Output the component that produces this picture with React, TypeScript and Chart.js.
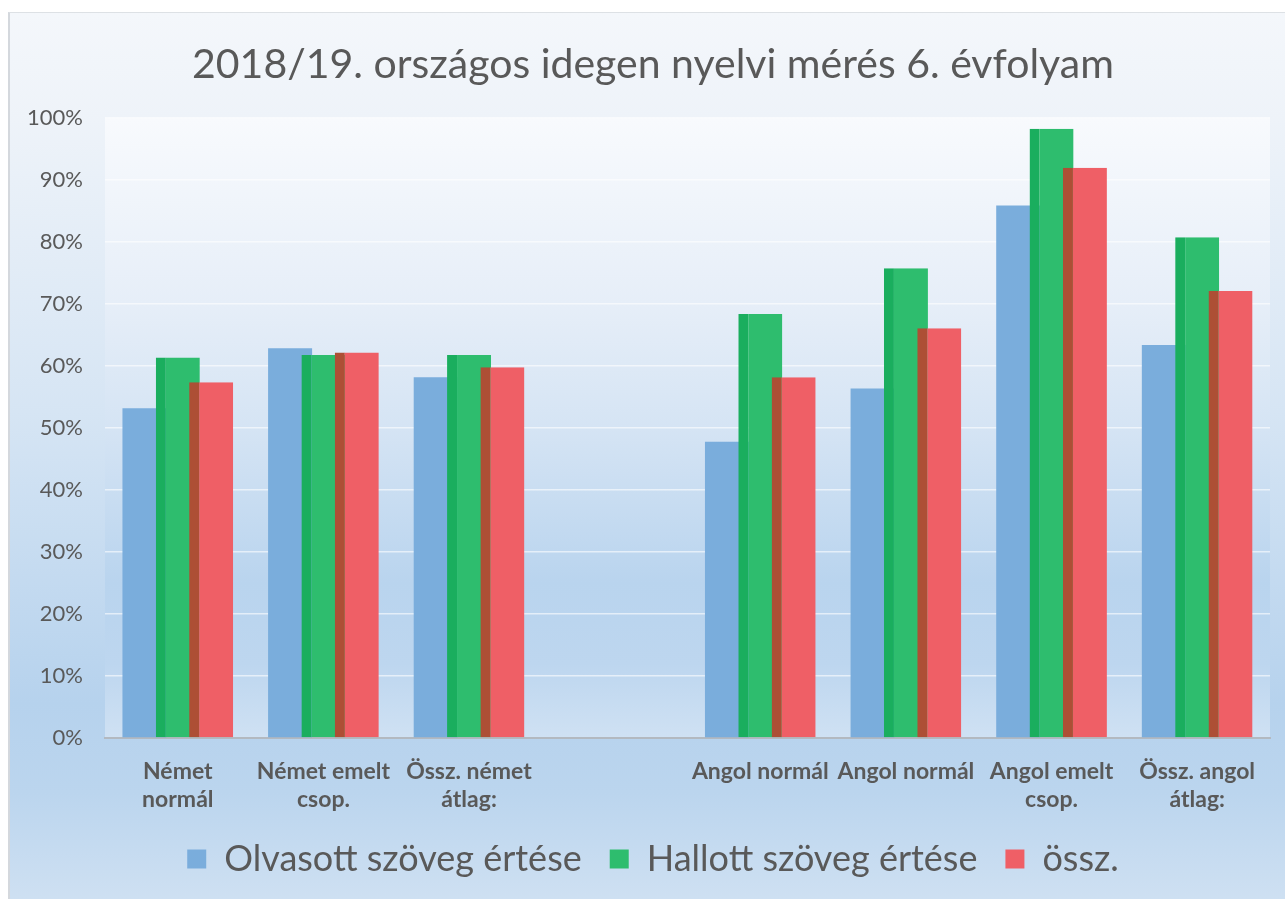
import React, { useEffect, useRef } from "react";
import { Chart, registerables } from "chart.js";

Chart.register(...registerables);

const TITLE = "2018/19. országos idegen nyelvi mérés 6. évfolyam";
const categories: (string | string[])[] = [
  ["Német", "normál"],
  ["Német emelt", "csop."],
  ["Össz. német", "átlag:"],
  "",
  "Angol normál",
  "Angol normál",
  ["Angol emelt", "csop."],
  ["Össz. angol", "átlag:"],
];
const seriesNames = ["Olvasott szöveg értése", "Hallott szöveg értése", "össz."];
const olvasott = [53.2, 62.9, 58.2, null, 47.8, 56.4, 85.9, 63.4];
const hallott = [61.4, 61.8, 61.8, null, 68.4, 75.8, 98.3, 80.8];
const ossz = [57.4, 62.2, 59.8, null, 58.2, 66.1, 92.0, 72.1];
const yTicks = [0, 10, 20, 30, 40, 50, 60, 70, 80, 90, 100];
const seriesColors = ["#7aaddc", "#2ebd6e", "#ef5f66"];

const FONT = "Lato, 'Open Sans', sans-serif";
const TEXT = "#595959";

const bgPlugin = {
  id: "bgPlugin",
  beforeDraw(chart: any) {
    const { ctx, chartArea: a, width, height } = chart;
    ctx.save();
    const g = ctx.createLinearGradient(0, 0, 0, height);
    g.addColorStop(0, "#f4f7fb");
    g.addColorStop(0.12, "#eef3f9");
    g.addColorStop(0.45, "#d6e5f4");
    g.addColorStop(0.78, "#b6d2ed");
    g.addColorStop(0.88, "#bbd5ee");
    g.addColorStop(1, "#cee0f2");
    ctx.fillStyle = g;
    ctx.fillRect(0, 0, width, height);
    const g2 = ctx.createLinearGradient(0, a.top, 0, a.bottom);
    g2.addColorStop(0, "#f8fafd");
    g2.addColorStop(0.3, "#e6eef8");
    g2.addColorStop(0.5, "#d5e4f4");
    g2.addColorStop(0.75, "#b9d4ee");
    g2.addColorStop(0.88, "#bdd6ef");
    g2.addColorStop(1, "#cfe1f3");
    ctx.fillStyle = g2;
    ctx.fillRect(a.left, a.top, a.right - a.left, a.bottom - a.top);
    ctx.restore();
  },
};

const orderPlugin = {
  id: "orderPlugin",
  beforeDatasetsDraw(chart: any) {
    for (let i = 0; i < chart.data.datasets.length; i++) {
      const meta = chart.getDatasetMeta(i);
      if (meta.hidden) continue;
      meta.controller.draw();
    }
    return false;
  },
};

export default function App() {
  const ref = useRef<HTMLCanvasElement>(null);
  useEffect(() => {
    if (!ref.current) return;
    const chart = new Chart(ref.current, {
      type: "bar",
      data: {
        labels: categories,
        datasets: [
          {
            label: seriesNames[0],
            data: olvasott,
            backgroundColor: seriesColors[0],
            borderWidth: 0,
          },
          {
            label: seriesNames[1],
            data: hallott,
            backgroundColor: seriesColors[1],
            borderColor: "#1aae5e",
            borderWidth: { left: 10, top: 0, right: 0, bottom: 0 },
            borderSkipped: false,
          },
          {
            label: seriesNames[2],
            data: ossz,
            backgroundColor: seriesColors[2],
            borderColor: "#ad4f35",
            borderWidth: { left: 10, top: 0, right: 0, bottom: 0 },
            borderSkipped: false,
          },
        ] as any,
      },
      options: {
        animation: false,
        responsive: false,
        maintainAspectRatio: false,
        datasets: {
          bar: {
            categoryPercentage: 0.687,
            barPercentage: 1.32,
          },
        },
        layout: { padding: { left: 26, right: 15, top: 0, bottom: 12 } },
        plugins: {
          title: {
            display: true,
            text: TITLE,
            color: TEXT,
            font: { family: FONT, size: 41, weight: "normal" },
            padding: { top: 27, bottom: 29 },
          },
          legend: {
            position: "bottom",
            labels: {
              color: TEXT,
              font: { family: FONT, size: 36 },
              boxWidth: 19,
              boxHeight: 19,
              padding: 28,
              generateLabels: (chart: any) =>
                chart.data.datasets.map((ds: any, i: number) => ({
                  text: ds.label,
                  fillStyle: seriesColors[i],
                  strokeStyle: "rgba(0,0,0,0)",
                  lineWidth: 0,
                  fontColor: TEXT,
                  hidden: false,
                  datasetIndex: i,
                })),
            },
          },
          tooltip: { enabled: false },
        },
        scales: {
          x: {
            grid: { display: false, drawTicks: false },
            border: { display: true, color: "#b3b9c0", width: 2 },
            ticks: {
              color: TEXT,
              font: { family: FONT, size: 23, weight: "bold", lineHeight: "28px" },
              padding: 20,
              maxRotation: 0,
              autoSkip: false,
            },
            afterFit: (s: any) => {
              s.height = 75;
            },
          },
          y: {
            min: 0,
            max: 100,
            afterBuildTicks: (s: any) => {
              s.ticks = yTicks.map((v) => ({ value: v }));
            },
            grid: {
              color: "rgba(255,255,255,0.6)",
              lineWidth: 1.5,
              drawTicks: false,
            },
            border: { display: false },
            ticks: {
              color: TEXT,
              font: { family: FONT, size: 22 },
              padding: 22,
              callback: (v: any) => v + "%",
            },
            afterFit: (s: any) => {
              s.width = 69;
            },
            afterUpdate: (s: any) => {
              s._computeLabelArea = () => undefined;
            },
          },
        },
      } as any,
      plugins: [bgPlugin, orderPlugin],
    });
    return () => chart.destroy();
  }, []);

  return (
    <div style={{ position: "absolute", left: 0, top: 0, width: 1285, height: 899, background: "#ffffff", overflow: "hidden" }}>
      <div style={{ position: "absolute", left: 8, top: 12, width: 1277, height: 887, borderLeft: "2px solid #d4d8dd", borderTop: "1px solid #dde1e5", boxSizing: "border-box" }} />
      <canvas ref={ref} width={1275} height={886} style={{ position: "absolute", left: 10, top: 13, width: 1275, height: 886 }} />
    </div>
  );
}
